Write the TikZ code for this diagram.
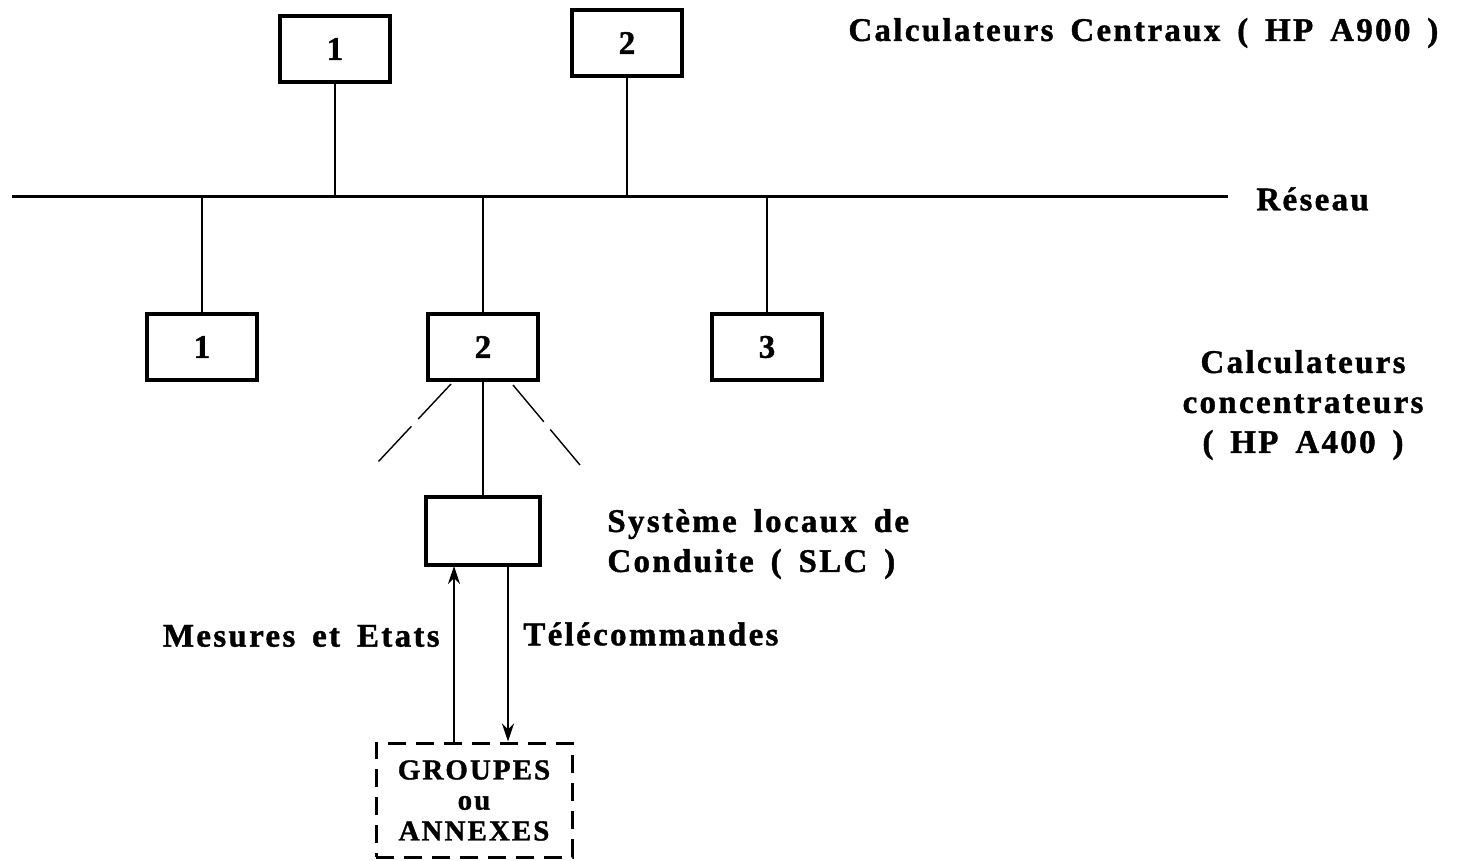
\documentclass[tikz,border=0pt]{standalone}
\usepackage{fontspec}
\setmainfont{Liberation Serif}[LetterSpace=7,WordSpace=1.6,FakeBold=1.2]
\usetikzlibrary{arrows.meta}
\begin{document}
\begin{tikzpicture}[x=0.5pt,y=-0.5pt,
  box/.style={draw,line width=2pt,minimum width=55pt,minimum height=33pt,inner sep=0pt,font=\bfseries\fontsize{16.5}{18}\selectfont},
  lbl/.style={font=\bfseries\fontsize{16.5}{20}\selectfont,inner sep=0pt},
  glbl/.style={font=\bfseries\fontsize{14.5}{14}\selectfont,inner sep=0pt},
  wire/.style={line width=1pt},
  arr/.style={line width=1pt,-{Stealth[length=9pt,width=6pt]}},
  diag/.style={line width=0.7pt,dash pattern=on 24pt off 5pt}]
\useasboundingbox (0,0) rectangle (1463,861);
% central computers
\node[box] (c1) at (335,49) {1};
\node[box] (c2) at (627,43) {2};
% bus
\coordinate (busL) at (12,197);
\coordinate (busR) at (1228,197);
\draw[line width=1.5pt] (busL) -- (busR);
\node[lbl,anchor=west] (res) at (1256,199) {Réseau};
\coordinate (t1) at (335,197);
\coordinate (t2) at (627,197);
\draw[wire] (c1.south) -- (t1);
\draw[wire] (c2.south) -- (t2);
% concentrators
\node[box] (k1) at (202,347) {1};
\node[box] (k2) at (483,347) {2};
\node[box] (k3) at (767,347) {3};
\coordinate (b1) at (202,197);
\coordinate (b2) at (483,197);
\coordinate (b3) at (767,197);
\draw[wire] (b1) -- (k1.north);
\draw[wire] (b2) -- (k2.north);
\draw[wire] (b3) -- (k3.north);
% SLC
\node[draw,line width=2pt,minimum width=57pt,minimum height=34pt,inner sep=0pt] (slc) at (483,531) {};
\draw[wire] (k2.south) -- (slc.north);
\coordinate (dl1) at (451,384);
\coordinate (dl2) at (378,462);
\coordinate (dr1) at (513,385);
\coordinate (dr2) at (580,465);
\draw[diag] (dl1) -- (dl2);
\draw[diag] (dr1) -- (dr2);
% groups box
\node[draw,line width=1.5pt,dash pattern=on 9pt off 5pt,minimum width=98pt,minimum height=57pt,inner sep=0pt] (grp) at (474,800) {};
\node[glbl] (g1) at (474,770) {GROUPES};
\node[glbl] (g2) at (474,803) {ou};
\node[glbl] (g3) at (474,831) {ANNEXES};
\coordinate (ua) at (454,566);
\coordinate (da) at (508,566);
\draw[arr] (grp.north -| ua) -- (ua);
\draw[arr] (da) -- (grp.north -| da);
% labels
\node[lbl,anchor=east] (mes) at (440,636) {Mesures et Etats};
\node[lbl,anchor=west] (tel) at (523,634) {Télécommandes};
\node[lbl,anchor=west,align=left] (sys) at (607,544) {Système locaux de\\Conduite ( SLC )};
\node[lbl,anchor=west] (cc) at (848,33) {Calculateurs Centraux ( HP A900 )};
\node[lbl,align=center] (conc) at (1303,405) {Calculateurs\\concentrateurs\\( HP A400 )};
\end{tikzpicture}
\end{document}
